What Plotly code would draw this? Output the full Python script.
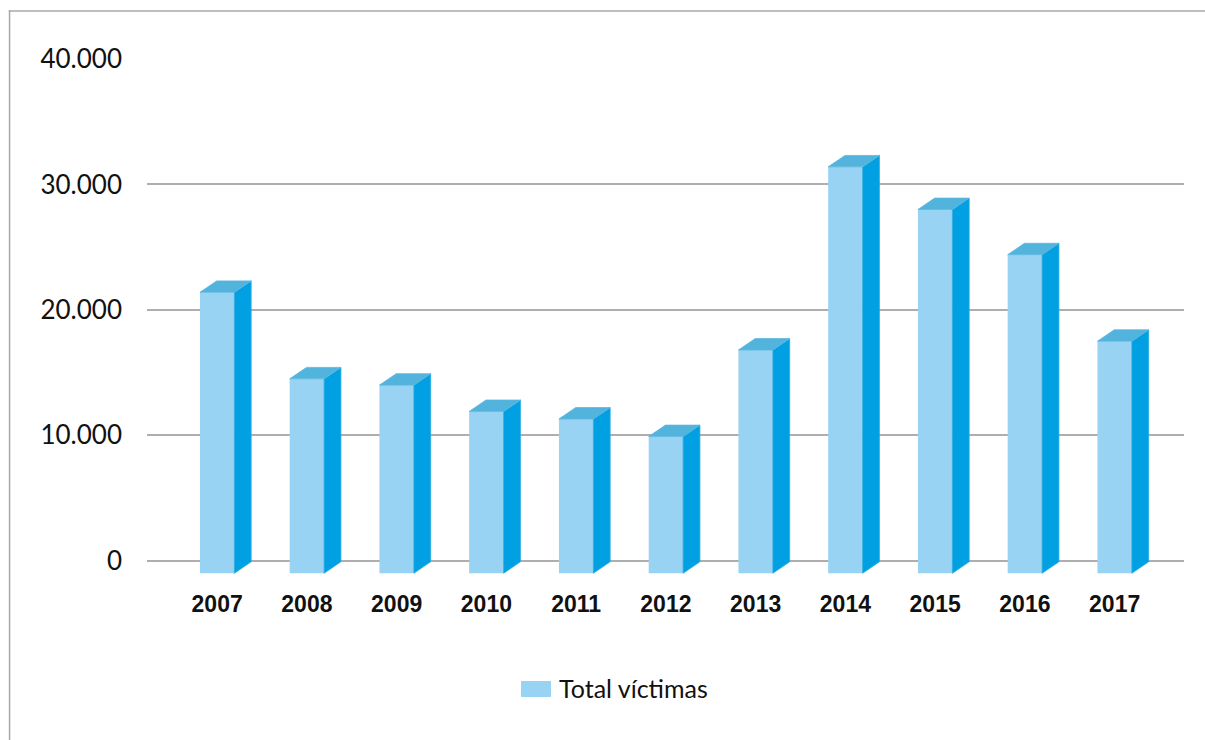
import plotly.graph_objects as go

# Data
years = ["2007", "2008", "2009", "2010", "2011", "2012",
         "2013", "2014", "2015", "2016", "2017"]
victims = [22400, 15500, 15000, 12900, 12300, 10900,
           17800, 32400, 29000, 25400, 18500]
y_ticks = [0, 10000, 20000, 30000, 40000]
series_name = "Total víctimas"

# Pseudo-3D bar geometry (data units)
BAR_W = 0.384      # front face width (category units)
DEPTH_X = 0.187    # horizontal depth offset
DEPTH_Y = 910      # vertical depth offset
FRONT_DROP = 1000  # front face sits below the back wall baseline

FRONT = "#98D3F3"
SIDE = "#00A0E3"
TOP = "#52B3DD"

idx = list(range(len(years)))

fig = go.Figure()

# Front faces
fig.add_trace(go.Bar(
    x=idx, y=victims, base=[-FRONT_DROP] * len(victims), width=BAR_W,
    marker=dict(color=FRONT, line=dict(width=0)),
    showlegend=False, hoverinfo="skip",
))

# Side and top faces as filled polygons
side_x, side_y, top_x, top_y = [], [], [], []
for i, v in zip(idx, victims):
    xl, xr = i - BAR_W / 2, i + BAR_W / 2
    y0, y1 = -FRONT_DROP, v - FRONT_DROP
    side_x += [xr, xr, xr + DEPTH_X, xr + DEPTH_X, xr, None]
    side_y += [y0, y1, y1 + DEPTH_Y, y0 + DEPTH_Y, y0, None]
    top_x += [xl, xl + DEPTH_X, xr + DEPTH_X, xr, xl, None]
    top_y += [y1, y1 + DEPTH_Y, y1 + DEPTH_Y, y1, y1, None]

fig.add_trace(go.Scatter(
    x=side_x, y=side_y, mode="lines", fill="toself", fillcolor=SIDE,
    line=dict(width=0.8, color="#29A9E1"), connectgaps=False,
    showlegend=False, hoverinfo="skip",
))
fig.add_trace(go.Scatter(
    x=top_x, y=top_y, mode="lines", fill="toself", fillcolor=TOP,
    line=dict(width=0.8, color="#5CB8E0"), connectgaps=False,
    showlegend=False, hoverinfo="skip",
))

# Plot area in pixels: l=147, r=21, t=59, b=165 on a 1205x740 canvas
L, R, T, B = 147, 21, 59, 165
W, H = 1205, 740
PW, PH = W - L - R, H - T - B


def px_x(p):
    return (p - L) / PW


def px_y(p):
    return (H - B - p) / PH


FRAME = "#A8A8A8"
shapes = [
    # outer frame (left and top edges) as thin filled strips
    dict(type="rect", xref="paper", yref="paper",
         x0=px_x(8.8), x1=px_x(10.3), y0=px_y(10.3), y1=px_y(H),
         fillcolor=FRAME, line=dict(width=0), layer="below"),
    dict(type="rect", xref="paper", yref="paper",
         x0=px_x(8.8), x1=px_x(W), y0=px_y(10.3), y1=px_y(11.8),
         fillcolor=FRAME, line=dict(width=0), layer="below"),
    # legend swatch
    dict(type="rect", xref="paper", yref="paper",
         x0=px_x(521), x1=px_x(551), y0=px_y(681), y1=px_y(697),
         fillcolor=FRONT, line=dict(width=0)),
]

annotations = [
    dict(text=series_name, xref="paper", yref="paper",
         x=px_x(557), y=px_y(688), xanchor="left", yanchor="middle",
         showarrow=False, font=dict(family="Lato", size=25, color="#111111")),
]

fig.update_layout(
    width=W, height=H,
    margin=dict(l=L, r=R, t=T, b=B, pad=0),
    paper_bgcolor="white", plot_bgcolor="white",
    separators=",.",
    showlegend=False,
    shapes=shapes,
    annotations=annotations,
    xaxis=dict(
        range=[-0.7816, 10.7727],
        tickvals=idx, ticktext=years,
        showgrid=False, zeroline=False, showline=False, ticks="",
        ticklabelstandoff=13,
        tickfont=dict(family="Liberation Sans", size=23, color="#111111",
                      weight="bold"),
    ),
    yaxis=dict(
        range=[-1140, 40000],
        tickvals=y_ticks, tickformat=",d",
        showgrid=True, gridcolor="#AEAEAE", gridwidth=1.5,
        zeroline=False, showline=False, ticks="",
        ticklabelstandoff=24,
        tickfont=dict(family="Lato", size=26, color="#111111"),
    ),
)

fig.write_html("out.html", config={"displayModeBar": False})
